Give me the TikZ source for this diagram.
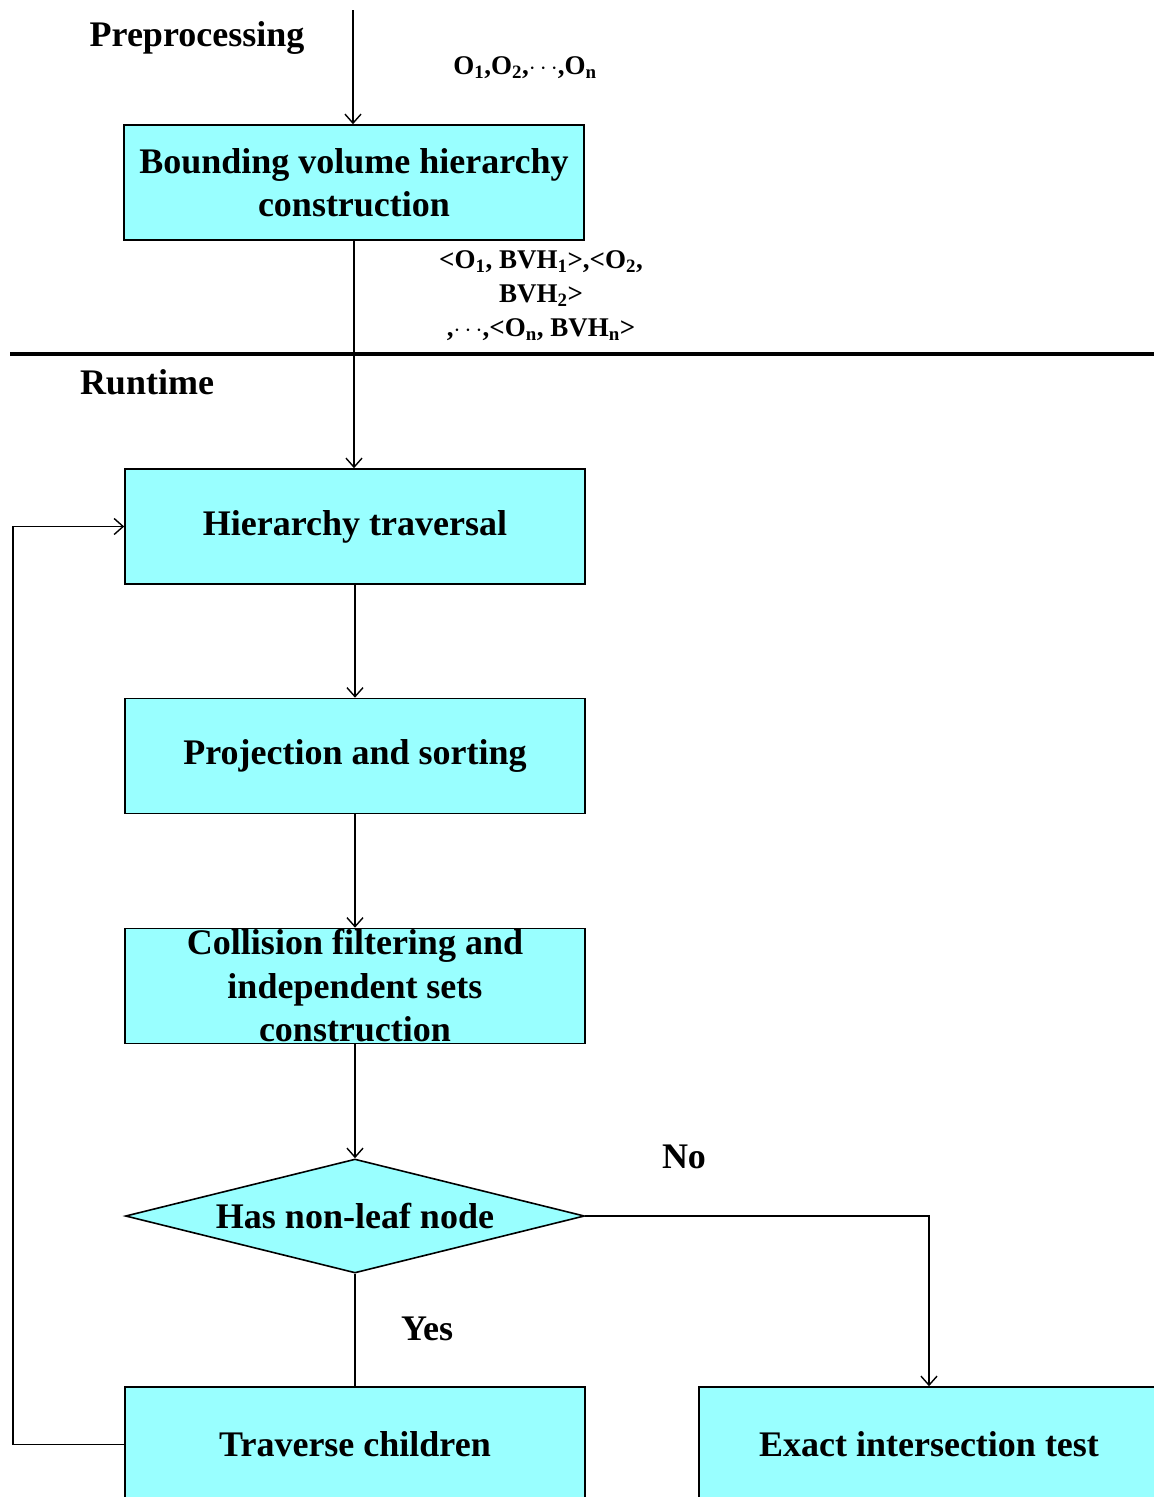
\documentclass[tikz,border=0pt]{standalone}
\usepackage{fontspec}
\setmainfont{Liberation Serif}
\usetikzlibrary{arrows.meta,shapes.geometric}
\definecolor{boxcyan}{RGB}{153,255,255}
\newcommand\flowfont{\fontsize{36}{43.5}\selectfont\bfseries}
\newcommand\tagfont{\fontsize{27}{34}\selectfont\bfseries}
\begin{document}
\begin{tikzpicture}[x=1pt,y=-1pt,
  stage/.style={draw=black, line width=1.6pt, fill=boxcyan,
    minimum width=460pt, minimum height=115pt, inner sep=0pt,
    align=center, font=\flowfont},
  decision/.style={draw=black, line width=1.6pt, fill=boxcyan, diamond,
    minimum width=459pt, minimum height=114pt, inner sep=0pt},
  lbl/.style={inner sep=0pt, align=center, font=\flowfont},
  tag/.style={inner sep=0pt, align=center, font=\tagfont},
  flow/.style={line width=1.6pt, -{Straight Barb[length=9pt,width=16pt,line width=1.4pt]}},
  link/.style={line width=1.6pt}
]
\useasboundingbox (0,0) rectangle (1154,1497);
\clip (0,0) rectangle (1154,1497);

% phase labels
\node[lbl] (pre) at (197,38) {Preprocessing};
\node[lbl] (run) at (147,382) {Runtime};

% preprocessing stage
\coordinate (in) at (353,10);
\node[stage] (bvh) at (354,182.5) {Bounding volume hierarchy\\construction};
\node[tag] (objs) at (525,68) {O\textsubscript{1},O\textsubscript{2},$\cdots$,O\textsubscript{n}};
\node[tag] (pairs) at (541,296) {<O\textsubscript{1}, BVH\textsubscript{1}>,<O\textsubscript{2},\\BVH\textsubscript{2}>\\,$\cdots$,<O\textsubscript{n}, BVH\textsubscript{n}>};

% phase separator
\coordinate (sepL) at (10,354);
\coordinate (sepR) at (1154,354);
\draw[line width=3.2pt] (sepL) -- (sepR);

% runtime stages
\node[stage] (trav) at (355,526.5) {Hierarchy traversal};
\node[stage] (proj) at (355,756) {Projection and sorting};
\node[stage] (filt) at (355,986) {};
\node[lbl] (filtt) at (filt.center) {Collision filtering and\\independent sets\\construction};
\node[decision] (leaf) at (355,1216) {};
\node[lbl] (leaft) at (leaf.center) {Has non-leaf node};
\node[stage] (child) at (355,1444.5) {Traverse children};
\node[stage] (exact) at (929,1444.5) {Exact intersection test};

\node[lbl] (yes) at (427,1329) {Yes};
\node[lbl] (no) at (684,1157) {No};

% connectors
\draw[flow] (in) -- (bvh.north -| in);
\draw[flow] (bvh.south) -- (trav.north -| bvh.south);
\draw[flow] (trav) -- (proj);
\draw[flow] (proj) -- (filt);
\draw[flow] (filt) -- (leaf.north);
\draw[link] (leaf.south) -- (child.north);
\draw[flow] (leaf.east) -| (exact.north);
\coordinate (back) at (13,1444.5);
\draw[flow] (child.west) -- (back) |- (trav.west);
\end{tikzpicture}
\end{document}
